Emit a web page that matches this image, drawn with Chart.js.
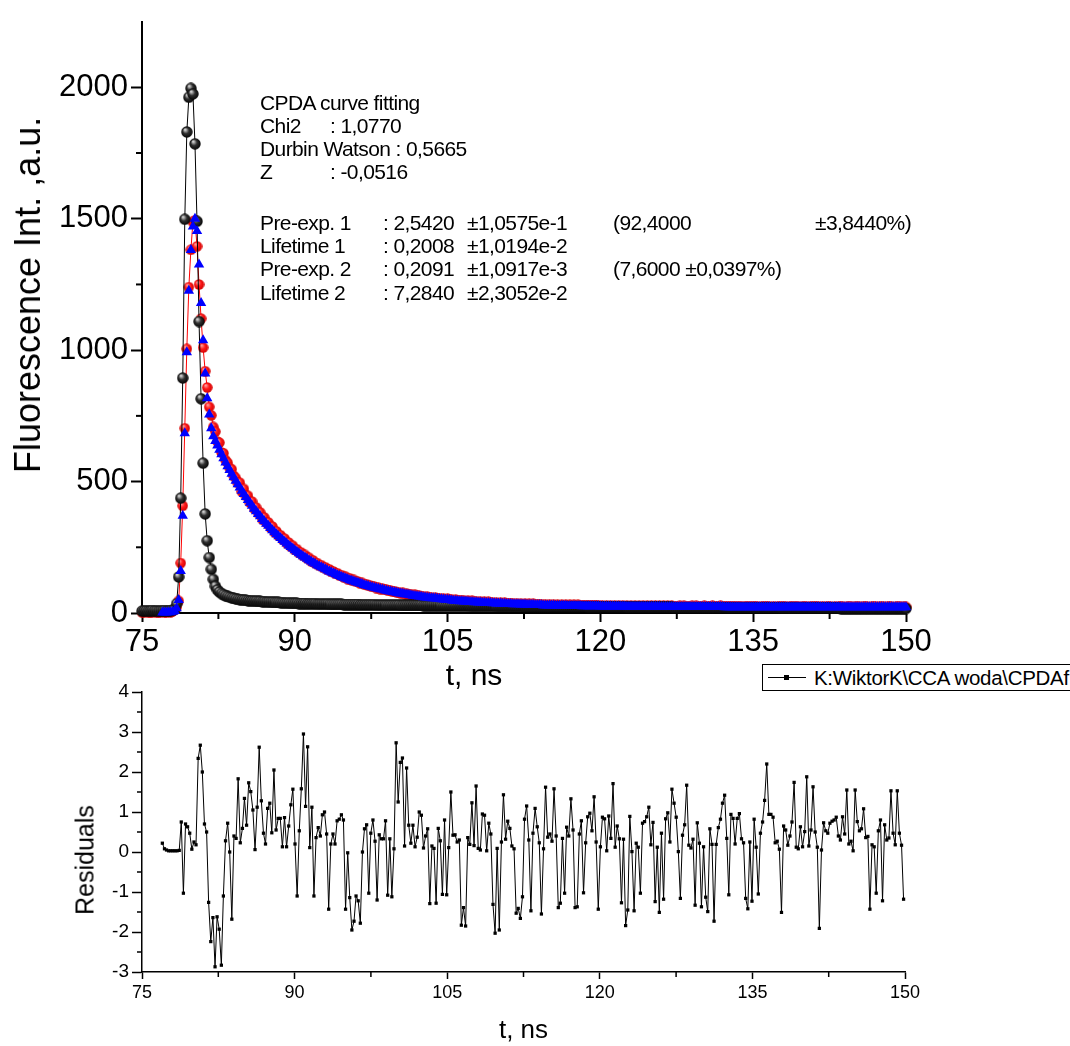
<!DOCTYPE html>
<html>
<head>
<meta charset="utf-8">
<title>CPDA fluorescence decay</title>
<script src="https://cdn.jsdelivr.net/npm/chart.js@4.4.1/dist/chart.umd.min.js"></script>
<style>
  html, body { margin: 0; padding: 0; background: #fff; overflow: hidden; }
  body { width: 1070px; height: 1046px; position: relative; font-family: "Liberation Sans", Arial, sans-serif; color: #000; }
  canvas { position: absolute; left: 0; }
  #decayChart { top: 0; }
  #residChart { top: 660px; }
  .note { position: absolute; font-size: 21px; line-height: 23px; white-space: pre; letter-spacing: -0.6px; }
  .axTitle { position: absolute; white-space: nowrap; line-height: 1; }
  #legendBox { position: absolute; left: 762px; top: 664px; width: 420px; height: 25px; border: 1px solid #000; background: #fff; }
  #legendBox .line { position: absolute; left: 5px; top: 12px; width: 38px; height: 1px; background: #000; }
  #legendBox .mark { position: absolute; left: 21px; top: 10px; width: 5px; height: 5px; background: #000; }
  #legendBox .txt { position: absolute; left: 51px; top: 0; font-size: 20.5px; line-height: 25px; white-space: pre; letter-spacing: -0.3px; }
</style>
</head>
<body>
<canvas id="decayChart" width="1070" height="700"></canvas>
<canvas id="residChart" width="1070" height="386"></canvas>

<div class="axTitle" style="left:474px; top:675px; font-size:30px; transform:translate(-50%,-50%);">t, ns</div>
<div class="axTitle" style="left:28px; top:295px; font-size:36px; transform:translate(-50%,-50%) rotate(-90deg);">Fluorescence Int. ,a.u.</div>
<div class="axTitle" style="left:85px; top:860px; font-size:25px; transform:translate(-50%,-50%) rotate(-90deg);">Residuals</div>

<div class="note" style="left:260px; top:91px;">CPDA curve fitting</div>
<div class="note" style="left:260px; top:114px;">Chi2</div>
<div class="note" style="left:330px; top:114px;">: 1,0770</div>
<div class="note" style="left:260px; top:137px;">Durbin Watson : 0,5665</div>
<div class="note" style="left:260px; top:160px;">Z</div>
<div class="note" style="left:330px; top:160px;">: -0,0516</div>

<div class="note" style="left:260px; top:211px;">Pre-exp. 1</div>
<div class="note" style="left:383px; top:211px;">: 2,5420</div>
<div class="note" style="left:467px; top:211px;">±1,0575e-1</div>
<div class="note" style="left:613px; top:211px;">(92,4000</div>
<div class="note" style="left:815px; top:211px;">±3,8440%)</div>
<div class="note" style="left:260px; top:234px;">Lifetime 1</div>
<div class="note" style="left:383px; top:234px;">: 0,2008</div>
<div class="note" style="left:467px; top:234px;">±1,0194e-2</div>
<div class="note" style="left:260px; top:257px;">Pre-exp. 2</div>
<div class="note" style="left:383px; top:257px;">: 0,2091</div>
<div class="note" style="left:467px; top:257px;">±1,0917e-3</div>
<div class="note" style="left:613px; top:257px;">(7,6000 ±0,0397%)</div>
<div class="note" style="left:260px; top:281px;">Lifetime 2</div>
<div class="note" style="left:383px; top:281px;">: 7,2840</div>
<div class="note" style="left:467px; top:281px;">±2,3052e-2</div>

<div id="legendBox"><div class="line"></div><div class="mark"></div><div class="txt">K:WiktorK\CCA woda\CPDAf</div></div>

<script>
// decay channel times, ns
const decayTime = [
  75,75.2,75.4,75.6,75.8,76,76.2,76.4,76.6,76.8,
  77,77.2,77.4,77.6,77.8,78,78.2,78.4,78.6,78.8,
  79,79.2,79.4,79.6,79.8,80,80.2,80.4,80.6,80.8,
  81,81.2,81.4,81.6,81.8,82,82.2,82.4,82.6,82.8,
  83,83.2,83.4,83.6,83.8,84,84.2,84.4,84.6,84.8,
  85,85.2,85.4,85.6,85.8,86,86.2,86.4,86.6,86.8,
  87,87.2,87.4,87.6,87.8,88,88.2,88.4,88.6,88.8,
  89,89.2,89.4,89.6,89.8,90,90.2,90.4,90.6,90.8,
  91,91.2,91.4,91.6,91.8,92,92.2,92.4,92.6,92.8,
  93,93.2,93.4,93.6,93.8,94,94.2,94.4,94.6,94.8,
  95,95.2,95.4,95.6,95.8,96,96.2,96.4,96.6,96.8,
  97,97.2,97.4,97.6,97.8,98,98.2,98.4,98.6,98.8,
  99,99.2,99.4,99.6,99.8,100,100.2,100.4,100.6,100.8,
  101,101.2,101.4,101.6,101.8,102,102.2,102.4,102.6,102.8,
  103,103.2,103.4,103.6,103.8,104,104.2,104.4,104.6,104.8,
  105,105.2,105.4,105.6,105.8,106,106.2,106.4,106.6,106.8,
  107,107.2,107.4,107.6,107.8,108,108.2,108.4,108.6,108.8,
  109,109.2,109.4,109.6,109.8,110,110.2,110.4,110.6,110.8,
  111,111.2,111.4,111.6,111.8,112,112.2,112.4,112.6,112.8,
  113,113.2,113.4,113.6,113.8,114,114.2,114.4,114.6,114.8,
  115,115.2,115.4,115.6,115.8,116,116.2,116.4,116.6,116.8,
  117,117.2,117.4,117.6,117.8,118,118.2,118.4,118.6,118.8,
  119,119.2,119.4,119.6,119.8,120,120.2,120.4,120.6,120.8,
  121,121.2,121.4,121.6,121.8,122,122.2,122.4,122.6,122.8,
  123,123.2,123.4,123.6,123.8,124,124.2,124.4,124.6,124.8,
  125,125.2,125.4,125.6,125.8,126,126.2,126.4,126.6,126.8,
  127,127.2,127.4,127.6,127.8,128,128.2,128.4,128.6,128.8,
  129,129.2,129.4,129.6,129.8,130,130.2,130.4,130.6,130.8,
  131,131.2,131.4,131.6,131.8,132,132.2,132.4,132.6,132.8,
  133,133.2,133.4,133.6,133.8,134,134.2,134.4,134.6,134.8,
  135,135.2,135.4,135.6,135.8,136,136.2,136.4,136.6,136.8,
  137,137.2,137.4,137.6,137.8,138,138.2,138.4,138.6,138.8,
  139,139.2,139.4,139.6,139.8,140,140.2,140.4,140.6,140.8,
  141,141.2,141.4,141.6,141.8,142,142.2,142.4,142.6,142.8,
  143,143.2,143.4,143.6,143.8,144,144.2,144.4,144.6,144.8,
  145,145.2,145.4,145.6,145.8,146,146.2,146.4,146.6,146.8,
  147,147.2,147.4,147.6,147.8,148,148.2,148.4,148.6,148.8,
  149,149.2,149.4,149.6,149.8,150
];

// instrument response (black spheres)
const irfCounts = [
  7,8,8,7,8,9,8,8,7,8,
  8,9,8,8,9,10,14,35,137,437,
  894,1498,1830,1962,1996,1975,1785,1490,1109,815,
  570,377,275,211,166,128,102,88,80,74,
  70,66,63,60,58,56,54,52,51,50,
  49,48,47,46,46,45,45,44,44,43,
  43,42,42,41,41,40,40,40,39,39,
  38,38,38,37,37,37,37,36,36,36,
  36,35,35,35,35,35,34,34,34,34,
  34,34,33,33,33,33,33,33,33,32,
  32,32,32,32,32,32,32,31,31,31,
  31,31,31,31,31,30,30,30,30,30,
  30,30,30,30,30,30,30,29,29,29,
  29,29,29,29,29,29,29,29,28,28,
  28,28,28,28,28,28,28,28,28,27,
  27,27,27,27,27,27,27,27,27,27,
  27,26,26,26,26,26,26,26,26,26,
  26,26,26,26,25,25,25,25,25,25,
  25,25,25,25,25,25,25,25,24,24,
  24,24,24,24,24,24,24,24,24,24,
  24,24,23,23,23,23,23,23,23,23,
  23,23,23,23,23,23,23,23,23,22,
  22,22,22,22,22,22,22,22,22,22,
  22,22,22,22,22,22,22,22,21,21,
  21,21,21,21,21,21,21,21,21,21,
  21,21,21,21,21,21,21,21,21,21,
  21,20,20,20,20,20,20,20,20,20,
  20,20,20,20,20,20,20,20,20,20,
  20,20,20,20,20,20,20,19,19,19,
  19,19,19,19,19,19,19,19,19,19,
  19,19,19,19,19,19,19,19,19,19,
  19,19,19,19,18,18,18,18,18,18,
  18,18,18,18,18,18,18,18,18,18,
  18,18,18,18,18,18,18,18,18,18,
  18,18,18,17,17,17,17,17,17,17,
  17,17,17,17,17,17,17,17,17,17,
  17,17,17,17,17,17,17,17,17,17,
  17,17,17,17,17,17
];

// measured decay (red circles)
const dataCounts = [
  3,2,4,3,2,3,4,2,3,3,
  4,3,2,4,3,6,12,22,46,190,
  408,703,1005,1240,1382,1488,1494,1395,1250,1120,
  1010,920,858,784,752,708,690,652,648,611,
  608,582,572,552,547,522,514,495,496,462,
  472,446,446,420,424,398,402,380,383,357,
  364,344,345,325,329,308,311,294,296,280,
  283,266,268,253,256,240,243,229,231,218,
  221,208,210,197,200,189,190,180,182,172,
  174,164,166,156,158,149,151,142,144,136,
  138,129,132,124,126,119,120,113,115,109,
  110,104,105,99,101,95,97,91,93,88,
  89,84,86,81,83,78,79,75,77,72,
  74,70,72,67,69,65,67,63,64,60,
  62,58,60,57,59,55,57,53,55,51,
  54,50,52,48,51,47,49,46,48,45,
  47,43,46,42,45,41,44,40,43,39,
  42,39,41,38,40,37,40,36,39,35,
  38,35,37,34,37,34,36,33,36,32,
  35,32,35,31,34,31,34,30,33,30,
  33,30,33,29,32,29,32,29,32,28,
  31,28,31,28,31,28,30,27,30,27,
  30,27,30,27,30,26,29,26,29,26,
  29,26,29,26,29,26,29,26,28,25,
  28,25,27,25,28,25,28,25,27,25,
  28,25,27,24,28,24,27,25,27,24,
  27,24,26,24,27,23,27,24,26,24,
  27,23,27,24,26,24,27,23,26,24,
  27,24,26,23,27,24,26,23,26,23,
  26,23,25,23,26,22,26,23,25,23,
  26,23,26,22,25,23,26,23,25,22,
  26,22,25,23,26,23,25,22,26,23,
  25,23,26,22,25,23,26,22,25,23,
  26,23,25,22,26,22,25,23,25,22,
  25,22,26,23,25,22,25,23,26,22,
  25,23,25,22,26,23,25,22,25,23,
  26,22,25,23,25,22,26,23,25,22,
  25,23,26,22,25,23
];

// two-exponential fit (blue triangles)
const fitCounts = [
  null,null,null,null,null,null,null,null,null,null,
  2,2,2,3,3,5,8,18,49,160,
  370,684,992,1226,1381,1470,1500,1453,1326,1179,
  1038,911,817,755,703,672,654,637,621,604,
  589,573,558,544,530,516,503,490,477,465,
  453,441,430,419,408,397,387,377,368,358,
  349,340,332,323,315,307,300,292,285,278,
  271,264,257,251,245,239,233,227,222,216,
  211,206,201,196,191,187,182,178,174,170,
  166,162,158,154,151,147,144,141,137,134,
  131,128,125,123,120,117,115,112,110,107,
  105,103,100,98,96,94,92,90,89,87,
  85,83,82,80,79,77,75,74,73,71,
  70,69,68,66,65,64,63,62,60,59,
  58,57,56,56,55,54,53,52,51,50,
  50,49,48,47,47,46,45,45,44,44,
  43,42,42,41,41,40,40,39,39,38,
  38,38,37,37,36,36,36,35,35,34,
  34,34,33,33,33,33,32,32,32,31,
  31,31,31,30,30,30,30,29,29,29,
  29,29,29,28,28,28,28,28,28,27,
  27,27,27,27,27,27,26,26,26,26,
  26,26,26,26,26,25,25,25,25,25,
  25,25,25,25,25,25,25,25,24,24,
  24,24,24,24,24,24,24,24,24,24,
  24,24,24,24,24,23,23,23,23,23,
  23,23,23,23,23,23,23,23,23,23,
  23,23,23,23,23,23,23,23,23,23,
  23,23,23,23,23,23,22,22,22,22,
  22,22,22,22,22,22,22,22,22,22,
  22,22,22,22,22,22,22,22,22,22,
  22,22,22,22,22,22,22,22,22,22,
  22,22,22,22,22,22,22,22,22,22,
  22,22,22,22,22,22,22,22,22,22,
  22,22,22,22,22,22,22,22,22,22,
  22,22,22,22,22,22,22,22,22,22,
  22,22,22,22,22,22,22,22,22,22,
  22,22,22,22,22,22
];

// residual channel times, ns (fit range)
const residTime = [
  77,77.21,77.41,77.62,77.83,78.04,78.24,78.45,78.66,78.86,
  79.07,79.28,79.48,79.69,79.9,80.11,80.31,80.52,80.73,80.93,
  81.14,81.35,81.55,81.76,81.97,82.18,82.38,82.59,82.8,83,
  83.21,83.42,83.62,83.83,84.04,84.25,84.45,84.66,84.87,85.07,
  85.28,85.49,85.69,85.9,86.11,86.32,86.52,86.73,86.94,87.14,
  87.35,87.56,87.76,87.97,88.18,88.39,88.59,88.8,89.01,89.21,
  89.42,89.63,89.83,90.04,90.25,90.46,90.66,90.87,91.08,91.28,
  91.49,91.7,91.9,92.11,92.32,92.53,92.73,92.94,93.15,93.35,
  93.56,93.77,93.97,94.18,94.39,94.6,94.8,95.01,95.22,95.42,
  95.63,95.84,96.04,96.25,96.46,96.67,96.87,97.08,97.29,97.49,
  97.7,97.91,98.11,98.32,98.53,98.74,98.94,99.15,99.36,99.56,
  99.77,99.98,100.18,100.39,100.6,100.81,101.01,101.22,101.43,101.63,
  101.84,102.05,102.25,102.46,102.67,102.88,103.08,103.29,103.5,103.7,
  103.91,104.12,104.32,104.53,104.74,104.95,105.15,105.36,105.57,105.77,
  105.98,106.19,106.39,106.6,106.81,107.02,107.22,107.43,107.64,107.84,
  108.05,108.26,108.46,108.67,108.88,109.09,109.29,109.5,109.71,109.91,
  110.12,110.33,110.53,110.74,110.95,111.16,111.36,111.57,111.78,111.98,
  112.19,112.4,112.6,112.81,113.02,113.23,113.43,113.64,113.85,114.05,
  114.26,114.47,114.67,114.88,115.09,115.3,115.5,115.71,115.92,116.12,
  116.33,116.54,116.74,116.95,117.16,117.37,117.57,117.78,117.99,118.19,
  118.4,118.61,118.81,119.02,119.23,119.44,119.64,119.85,120.06,120.26,
  120.47,120.68,120.88,121.09,121.3,121.51,121.71,121.92,122.13,122.33,
  122.54,122.75,122.95,123.16,123.37,123.58,123.78,123.99,124.2,124.4,
  124.61,124.82,125.02,125.23,125.44,125.65,125.85,126.06,126.27,126.47,
  126.68,126.89,127.09,127.3,127.51,127.72,127.92,128.13,128.34,128.54,
  128.75,128.96,129.16,129.37,129.58,129.79,129.99,130.2,130.41,130.61,
  130.82,131.03,131.23,131.44,131.65,131.86,132.06,132.27,132.48,132.68,
  132.89,133.1,133.3,133.51,133.72,133.93,134.13,134.34,134.55,134.75,
  134.96,135.17,135.37,135.58,135.79,136,136.2,136.41,136.62,136.82,
  137.03,137.24,137.44,137.65,137.86,138.07,138.27,138.48,138.69,138.89,
  139.1,139.31,139.51,139.72,139.93,140.14,140.34,140.55,140.76,140.96,
  141.17,141.38,141.58,141.79,142,142.21,142.41,142.62,142.83,143.03,
  143.24,143.45,143.65,143.86,144.07,144.28,144.48,144.69,144.9,145.1,
  145.31,145.52,145.72,145.93,146.14,146.35,146.55,146.76,146.97,147.17,
  147.38,147.59,147.79,148,148.21,148.42,148.62,148.83,149.04,149.24,
  149.45,149.66,149.86
];

// weighted residuals of the fit
const residuals = [
  0.22,0.08,0.05,0.03,0.03,0.03,0.03,0.03,0.04,0.75,
  -1.03,0.70,0.63,0.47,0.07,0.25,0.18,2.34,2.67,2.00,
  0.70,0.50,-1.26,-2.24,-1.64,-2.87,-1.62,-1.93,-2.83,-1.10,
  0.28,0.72,0.00,-1.68,0.40,0.34,1.83,0.23,0.59,1.34,
  0.67,1.73,1.51,1.05,0.06,1.12,2.62,1.28,0.47,0.20,
  1.09,1.22,0.48,2.05,0.55,0.84,0.84,0.13,0.86,0.13,
  0.65,1.18,1.57,0.20,-1.10,0.53,1.58,2.95,1.14,2.63,
  0.11,1.12,-1.10,0.36,0.61,0.40,0.93,1.00,0.45,-1.43,
  0.20,0.45,0.20,0.78,0.82,0.93,0.80,-1.43,-0.02,-1.14,
  -1.95,-1.73,-1.10,-1.22,-1.78,0.00,0.58,0.68,-1.03,0.47,
  0.80,0.27,-1.20,0.43,0.33,0.33,0.78,-1.08,0.33,-1.12,
  0.08,2.73,1.25,2.24,2.35,0.15,2.10,0.67,0.22,0.67,
  0.13,0.37,1.00,0.92,0.10,0.40,0.58,-1.29,0.15,0.09,
  -1.28,0.59,0.28,-1.06,0.80,-1.07,0.11,1.50,0.42,0.43,
  0.25,0.30,-1.83,-1.39,-1.85,0.36,0.19,1.23,0.16,1.65,
  0.09,0.05,0.95,0.92,0.03,0.72,0.45,-1.31,-2.03,0.09,
  -1.95,0.25,1.43,0.32,0.77,0.59,0.15,0.08,-1.53,-1.41,
  -1.66,-1.12,0.82,1.15,0.30,-1.47,0.47,1.09,0.63,0.23,
  -1.55,0.08,1.62,0.37,0.45,0.27,1.58,0.40,-1.39,-1.28,
  0.34,-1.03,0.62,0.40,1.33,0.55,-1.39,-1.37,0.45,0.78,
  -1.02,0.23,0.88,0.97,0.53,1.38,0.25,-1.43,0.13,0.87,
  0.83,0.03,0.90,0.34,1.71,0.12,0.65,0.33,-1.27,0.32,
  -1.84,-1.45,0.89,0.01,-1.47,0.22,0.12,-1.03,0.72,0.76,
  0.88,1.12,0.18,0.74,-1.24,0.12,-1.51,0.47,-1.18,0.83,
  0.98,0.25,1.57,1.22,0.87,0.01,-1.16,0.42,0.68,1.67,
  0.17,0.10,0.32,-1.33,0.73,0.22,-1.37,0.13,-1.13,-1.49,
  0.58,0.19,-1.73,0.19,0.61,0.82,1.22,1.42,0.34,-1.07,
  0.94,0.84,0.20,0.84,0.96,0.33,0.23,-1.16,-1.42,0.25,
  -1.23,0.82,0.12,-1.05,0.47,0.75,1.29,2.20,0.94,0.94,
  0.87,0.23,0.27,0.07,-1.51,0.65,0.55,0.17,0.40,0.75,
  1.74,0.12,0.08,0.63,0.13,0.51,1.88,0.15,0.55,1.63,
  0.50,0.12,-1.91,0.05,0.73,0.53,0.47,0.72,0.77,0.80,
  0.87,0.40,0.30,0.88,0.45,1.55,0.20,0.27,0.03,1.55,
  0.76,0.53,0.58,1.08,0.36,0.39,-1.43,0.18,0.13,-1.03,
  0.53,0.80,-1.22,0.68,0.30,0.35,1.53,0.47,0.18,1.53,
  0.47,0.17,-1.18
];

// axis ticks
const timeTicks = [75, 90, 105, 120, 135, 150];
const timeMinor = [82.5, 97.5, 112.5, 127.5, 142.5];
const countTicks = [0, 500, 1000, 1500, 2000];
const countMinor = [250, 750, 1250, 1750];
const residTicks = [-3, -2, -1, 0, 1, 2, 3, 4];
const residMinor = [-2.5, -1.5, -0.5, 0.5, 1.5, 2.5, 3.5];

const FONT = "'Liberation Sans', Arial, sans-serif";

const pairs = (xs, ys) => xs.map((x, i) => ({ x: x, y: ys[i] }));

function makeBall(d, hi, mid, lo) {
    const c = document.createElement('canvas');
    c.width = c.height = d;
    const g = c.getContext('2d');
    const r = d / 2;
    const grad = g.createRadialGradient(r * 0.7, r * 0.6, r * 0.1, r, r, r);
    grad.addColorStop(0, hi);
    grad.addColorStop(0.45, mid);
    grad.addColorStop(1, lo);
    g.fillStyle = grad;
    g.beginPath();
    g.arc(r, r, r - 0.3, 0, Math.PI * 2);
    g.fill();
    return c;
}

const blackBall = makeBall(12, '#d0d0d0', '#303030', '#000000');
const redBall = makeBall(11, '#ff9a9a', '#ff1a1a', '#d00000');

// short minor tick marks, placed with the chart's own scales
const minorTicks = {
    id: 'minorTicks',
    afterDraw(chart, args, opts) {
        const ctx = chart.ctx;
        const xs = chart.scales.x;
        const ys = chart.scales.y;
        ctx.save();
        ctx.strokeStyle = '#000';
        ctx.lineWidth = opts.width;
        opts.x.forEach(v => {
            const px = xs.getPixelForValue(v);
            ctx.beginPath();
            ctx.moveTo(px, xs.top);
            ctx.lineTo(px, xs.top + opts.len);
            ctx.stroke();
        });
        opts.y.forEach(v => {
            const py = ys.getPixelForValue(v);
            ctx.beginPath();
            ctx.moveTo(ys.right, py);
            ctx.lineTo(ys.right - opts.len, py);
            ctx.stroke();
        });
        ctx.restore();
    }
};

function axis(o) {
    return {
        type: 'linear',
        position: o.position,
        min: o.min,
        max: o.max,
        afterBuildTicks: s => { s.ticks = o.ticks.map(v => ({ value: v })); },
        afterFit: s => {
            if (o.position === 'left') s.width = o.size; else s.height = o.size;
        },
        border: { color: '#000', width: o.line },
        grid: { drawOnChartArea: false, drawTicks: true, tickLength: o.tickLen, tickWidth: o.line, tickColor: '#000' },
        ticks: {
            color: '#000',
            font: { family: FONT, size: o.tickFont },
            padding: o.tickPad,
            maxRotation: 0,
            autoSkip: false,
            callback: v => String(v)
        },
        title: {
            display: !!o.title,
            text: o.title || '',
            color: '#000',
            font: { family: FONT, size: o.titleFont || 12 },
            padding: o.titlePad || 0
        }
    };
}

new Chart(document.getElementById('decayChart'), {
    type: 'line',
    data: {
        datasets: [
            {
                label: 'Fit',
                data: pairs(decayTime, fitCounts),
                showLine: false,
                pointStyle: 'triangle',
                pointRadius: 6,
                pointBackgroundColor: '#0000ff',
                pointBorderWidth: 0,
                order: 0
            },
            {
                label: 'IRF',
                data: pairs(decayTime, irfCounts),
                borderColor: '#000',
                borderWidth: 1,
                pointStyle: blackBall,
                pointRadius: 6,
                order: 1
            },
            {
                label: 'Data',
                data: pairs(decayTime, dataCounts),
                borderColor: '#ff0000',
                borderWidth: 1,
                pointStyle: redBall,
                pointRadius: 6,
                order: 2
            }
        ]
    },
    options: {
        responsive: false,
        animation: false,
        events: [],
        clip: false,
        layout: { padding: { left: 0, right: 164, top: 17, bottom: 0 } },
        scales: {
            x: axis({ position: 'bottom', min: 75, max: 150, ticks: timeTicks, size: 87, line: 2, tickLen: 9,
                      tickFont: 31, tickPad: 2 }),
            y: axis({ position: 'left', min: 0, max: 2250, ticks: countTicks, size: 142, line: 2, tickLen: 11,
                      tickFont: 31, tickPad: 3 })
        },
        plugins: {
            legend: { display: false },
            tooltip: { enabled: false },
            minorTicks: { x: timeMinor, y: countMinor, len: 6, width: 2 }
        }
    },
    plugins: [minorTicks]
});

new Chart(document.getElementById('residChart'), {
    type: 'line',
    data: {
        datasets: [
            {
                label: 'K:WiktorK\\CCA woda\\CPDAf',
                data: pairs(residTime, residuals),
                borderColor: '#000',
                borderWidth: 1,
                pointStyle: 'rect',
                pointRadius: 2.3,
                pointBackgroundColor: '#000',
                pointBorderWidth: 0
            }
        ]
    },
    options: {
        responsive: false,
        animation: false,
        events: [],
        clip: false,
        layout: { padding: { left: 0, right: 165, top: 32, bottom: 0 } },
        scales: {
            x: axis({ position: 'bottom', min: 75, max: 150, ticks: timeTicks, size: 74, line: 1.5, tickLen: 7,
                      tickFont: 18, tickPad: 3, title: 't, ns', titleFont: 26, titlePad: { top: 0, bottom: 0 } }),
            y: axis({ position: 'left', min: -3, max: 4, ticks: residTicks, size: 142, line: 1.5, tickLen: 10,
                      tickFont: 19, tickPad: 3 })
        },
        plugins: {
            legend: { display: false },
            tooltip: { enabled: false },
            minorTicks: { x: timeMinor, y: residMinor, len: 5, width: 1.5 }
        }
    },
    plugins: [minorTicks]
});
</script>
</body>
</html>
